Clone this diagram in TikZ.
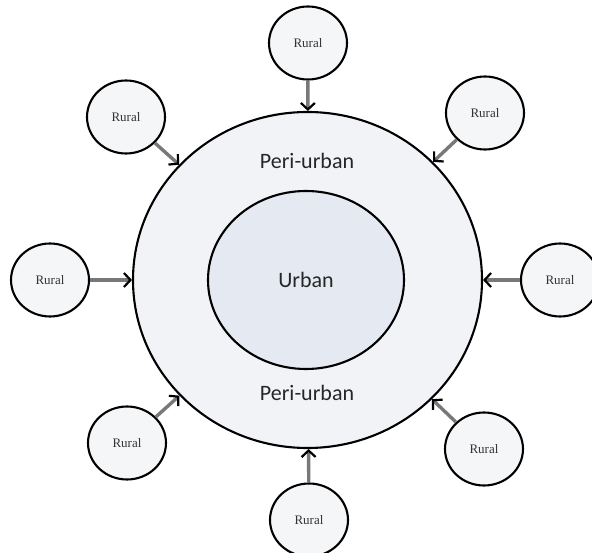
\documentclass[tikz,border=0pt]{standalone}
\usepackage{fontspec}
\setmainfont{Liberation Serif}
\newfontfamily\calib{Carlito}
\usetikzlibrary{shapes.geometric,arrows.meta}
\definecolor{outerfill}{RGB}{241,243,247}
\definecolor{innerfill}{RGB}{229,233,241}
\definecolor{ruralfill}{RGB}{245,246,248}
\definecolor{shaft}{RGB}{120,120,120}
\tikzset{
  ring/.style={ellipse, draw=black, line width=2.1pt, inner sep=0pt},
  rural/.style={ring, fill=ruralfill, minimum width=78pt, minimum height=73pt,
    font=\fontsize{13}{15}\selectfont, text=black!80},
  zonelabel/.style={font=\calib\fontsize{22}{26}\selectfont, text=black!85},
  arr/.style={draw=shaft, line width=3.4pt,
    -{Straight Barb[length=6.5pt,width=14pt,line width=2.2pt,color=black]}}
}
\begin{document}
\begin{tikzpicture}[x=1pt,y=-1pt]
\useasboundingbox (0,0) rectangle (592,553);
\node[ring, fill=outerfill, minimum width=349pt, minimum height=336pt] (big) at (307.5,280) {};
\node[ring, fill=innerfill, minimum width=196pt, minimum height=178pt] (urban) at (306,280) {};
\node[zonelabel] (urbantext) at (306,280) {Urban};
\node[zonelabel] (peri1) at (307,161) {Peri-urban};
\node[zonelabel] (peri2) at (307,393) {Peri-urban};

\node[rural] (rT) at (308,43) {Rural};
\node[rural] (rTL) at (126,117) {Rural};
\node[rural] (rTR) at (485,113) {Rural};
\node[rural] (rL) at (50,280) {Rural};
\node[rural] (rR) at (560,280) {Rural};
\node[rural] (rBL) at (127,443) {Rural};
\node[rural] (rBR) at (484,449) {Rural};
\node[rural] (rB) at (309,520) {Rural};

\foreach \r in {rT,rTL,rTR,rL,rR,rBL,rBR,rB}
  \draw[arr] (\r) -- (big);
\end{tikzpicture}
\end{document}
